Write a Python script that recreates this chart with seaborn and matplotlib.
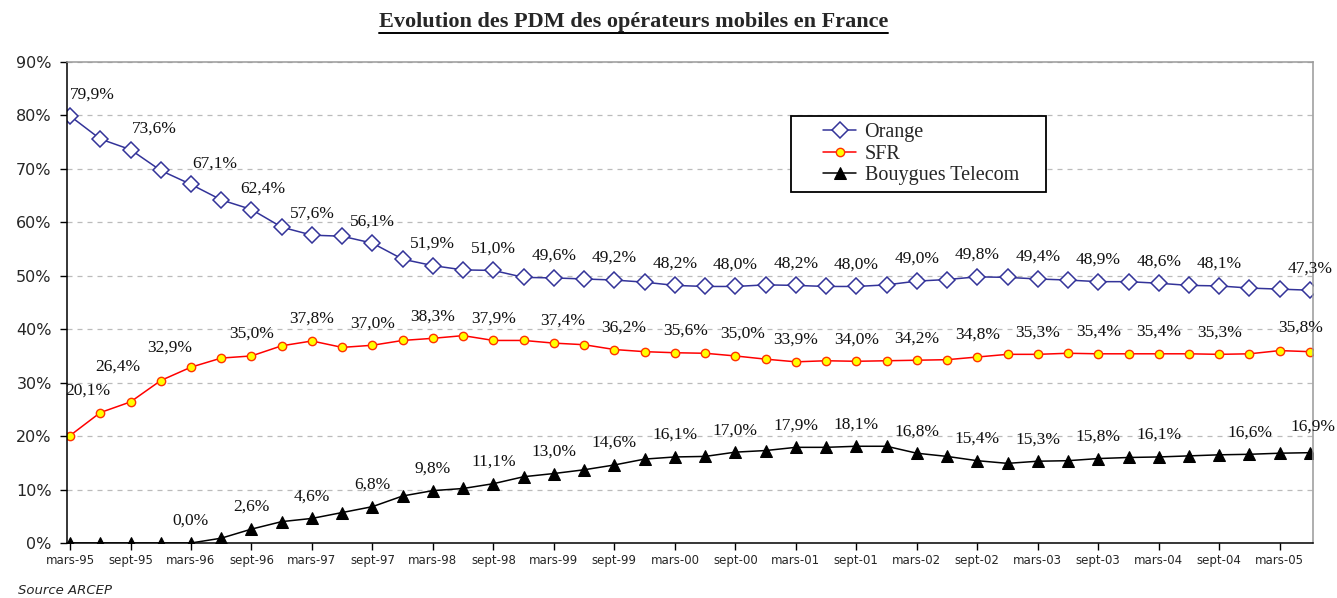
import matplotlib
matplotlib.use('Agg')
import matplotlib.pyplot as plt
from matplotlib.lines import Line2D
from matplotlib.legend_handler import HandlerLine2D
from matplotlib.ticker import FuncFormatter
import seaborn as sns

# Parts de marche trimestrielles (mars-95 -> juin-05), en %
orange = [79.9, 75.6, 73.6, 69.7, 67.1, 64.2, 62.4, 59.1, 57.6, 57.4, 56.1, 53.1,
          51.9, 51.1, 51.0, 49.7, 49.6, 49.4, 49.2, 48.8, 48.2, 48.0, 48.0, 48.3,
          48.2, 48.0, 48.0, 48.3, 49.0, 49.3, 49.8, 49.7, 49.4, 49.2, 48.9, 48.9,
          48.6, 48.2, 48.1, 47.7, 47.5, 47.3]
sfr = [20.1, 24.4, 26.4, 30.4, 32.9, 34.6, 35.0, 36.9, 37.8, 36.6, 37.0, 37.9,
       38.3, 38.8, 37.9, 37.9, 37.4, 37.1, 36.2, 35.8, 35.6, 35.5, 35.0, 34.4,
       33.9, 34.1, 34.0, 34.1, 34.2, 34.3, 34.8, 35.3, 35.3, 35.5, 35.4, 35.4,
       35.4, 35.4, 35.3, 35.4, 36.0, 35.8]
bouygues = [0.0, 0.0, 0.0, 0.0, 0.0, 0.9, 2.6, 4.0, 4.6, 5.7, 6.8, 8.8,
            9.8, 10.2, 11.1, 12.4, 13.0, 13.7, 14.6, 15.7, 16.1, 16.2, 17.0, 17.3,
            17.9, 17.9, 18.1, 18.1, 16.8, 16.2, 15.4, 14.9, 15.3, 15.4, 15.8, 16.0,
            16.1, 16.3, 16.5, 16.6, 16.8, 16.9]

tick_labels = ['mars-95', 'sept-95', 'mars-96', 'sept-96', 'mars-97', 'sept-97',
               'mars-98', 'sept-98', 'mars-99', 'sept-99', 'mars-00', 'sept-00',
               'mars-01', 'sept-01', 'mars-02', 'sept-02', 'mars-03', 'sept-03',
               'mars-04', 'sept-04', 'mars-05']

# points qui portent une etiquette
orange_lbl = list(range(0, 39, 2)) + [41]
sfr_lbl = list(range(0, 39, 2)) + [41]
bouygues_lbl = list(range(4, 37, 2)) + [39, 41]

x = list(range(len(orange)))


class ShiftedLine(HandlerLine2D):
    # dessine le trait dans la partie droite de la case (blanc a gauche comme Excel)
    def create_artists(self, legend, orig_handle, xdescent, ydescent, width, height, fontsize, trans):
        gap = width * 0.42
        return super().create_artists(legend, orig_handle, xdescent - gap, ydescent,
                                      width - gap, height, fontsize, trans)


sns.set_style('white')
plt.rcParams['font.family'] = ['DejaVu Sans']

fig = plt.figure(figsize=(13.37, 5.98), dpi=100)
ax = fig.add_axes([67 / 1337, 1 - 543 / 598, 1246 / 1337, 481 / 598])

blue = '#333399'
sns.lineplot(x=x, y=orange, ax=ax, color=blue, lw=1.1, marker='D', ms=8,
             markerfacecolor='white', markeredgecolor=blue, markeredgewidth=1.1,
             label='Orange')
sns.lineplot(x=x, y=sfr, ax=ax, color='#ff0000', lw=1.1, marker='o', ms=6,
             markerfacecolor='#ffff00', markeredgecolor='#ff3300', markeredgewidth=1.0,
             label='SFR')
sns.lineplot(x=x, y=bouygues, ax=ax, color='black', lw=1.1, marker='^', ms=8,
             markerfacecolor='black', markeredgecolor='black',
             label='Bouygues Telecom')

# etiquettes de donnees
shift = {('o', 0): (22, 21), ('o', 2): (24, 21), ('o', 4): (24, 21), ('o', 6): (11, 21),
         ('s', 0): (18, 45), ('s', 2): (-13, 35), ('s', 4): (-21, 20),
         ('s', 16): (9, 22), ('s', 18): (9, 22), ('s', 20): (11, 22), ('s', 22): (7, 22),
         ('s', 41): (-9, 24), ('b', 41): (3, 26)}
for key, vals, idx in [('o', orange, orange_lbl), ('s', sfr, sfr_lbl), ('b', bouygues, bouygues_lbl)]:
    for i in idx:
        dx, dy = shift.get((key, i), (0, 22))
        ax.annotate(f'{vals[i]:.1f}%'.replace('.', ','), (x[i], vals[i]),
                    xytext=(dx, dy), textcoords='offset pixels', ha='center', va='center',
                    fontsize=12.5, family='Liberation Serif', color='#111111')

ax.set_xlim(-0.1, len(x) - 0.9)
ax.set_ylim(0, 90)
ax.set_yticks(range(0, 91, 10))
ax.yaxis.set_major_formatter(FuncFormatter(lambda v, p: f'{v:.0f}%'))
ax.set_xticks(range(0, 41, 2))
ax.set_xticklabels(tick_labels)
ax.set_xlabel('')
ax.set_ylabel('')
ax.tick_params(axis='x', direction='out', length=5, width=1, pad=3, labelsize=8.5,
               bottom=True, color='black')
ax.tick_params(axis='y', direction='out', length=5, width=1, pad=6, labelsize=11.5,
               left=True, color='black')

ax.yaxis.grid(True, linestyle=(0, (4, 4)), color='#bbbbbb', lw=0.9)
ax.xaxis.grid(False)
for s in ['left', 'bottom']:
    ax.spines[s].set_color('black')
    ax.spines[s].set_linewidth(1.1)
for s in ['top', 'right']:
    ax.spines[s].set_color('#999999')
    ax.spines[s].set_linewidth(1.1)

# cadre de legende : x 791-1046, y 116-200 (pixels)
lx, lw_, ly, lh = (791 - 67) / 1246, 255 / 1246, (543 - 200) / 481, 84 / 481
handles, labels = ax.get_legend_handles_labels()
leg = ax.legend(handles, labels, loc='upper left', bbox_to_anchor=(lx, ly, lw_, lh),
                mode='expand', borderaxespad=0, frameon=True, fancybox=False, framealpha=1,
                prop={'family': 'Liberation Serif', 'size': 14.5},
                handlelength=2.9, handletextpad=0.4, labelspacing=0.12,
                borderpad=0.35, handler_map={Line2D: ShiftedLine()})
leg.get_frame().set_edgecolor('black')
leg.get_frame().set_linewidth(1.3)

title = fig.text(633.5 / 1337, 1 - 22 / 598, 'Evolution des PDM des opérateurs mobiles en France',
                 ha='center', va='center', fontsize=16, fontweight='bold',
                 family='Liberation Serif')
fig.text(18 / 1337, 1 - 590 / 598, 'Source ARCEP', ha='left', va='center',
         fontsize=9.5, style='italic')

# soulignement du titre
fig.canvas.draw()
bb = title.get_window_extent(fig.canvas.get_renderer())
inv = fig.transFigure.inverted()
(x0, y0), (x1, _) = inv.transform([(bb.x0, bb.y0 - 1), (bb.x1, bb.y0 - 1)])
fig.add_artist(Line2D([x0, x1], [y0, y0], color='black', lw=1.4, transform=fig.transFigure))

fig.savefig('out.png', dpi=100)
